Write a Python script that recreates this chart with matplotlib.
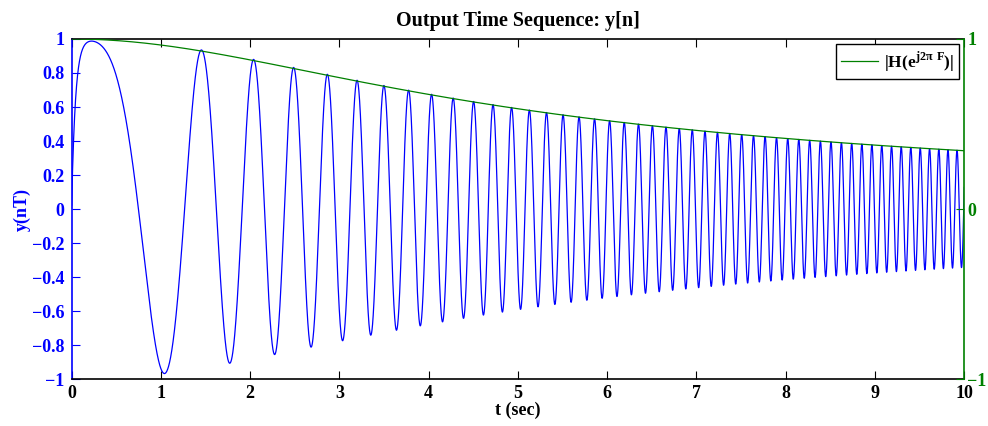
import matplotlib.pyplot as plt
import numpy as np

plt.rcParams['font.family'] = 'Liberation Serif'
plt.rcParams['font.weight'] = 'bold'
plt.rcParams['mathtext.fontset'] = 'custom'
plt.rcParams['mathtext.bf'] = 'Liberation Serif:bold'
plt.rcParams['mathtext.rm'] = 'Liberation Serif:bold'

# signal settings
fs = 1000.0          # samples per second
t_end = 10.0         # seconds shown
sweep_rate = 1.0     # Hz per second (chirp: f = sweep_rate * t)
f_cut = 3.65         # cutoff of the first order lowpass, Hz

x_ticks = [0, 1, 2, 3, 4, 5, 6, 7, 8, 9, 10]
y_ticks = [-1, -0.8, -0.6, -0.4, -0.2, 0, 0.2, 0.4, 0.6, 0.8, 1]
y_tick_labels = ['\u22121', '\u22120.8', '\u22120.6', '\u22120.4', '\u22120.2',
                 '0', '0.2', '0.4', '0.6', '0.8', '1']
y2_ticks = [-1, 0, 1]
y2_tick_labels = ['\u22121', '0', '1']

t = np.arange(0, t_end + 0.5 / fs, 1 / fs)
x = np.cos(np.pi * sweep_rate * t ** 2)

# first order recursive lowpass, starting at rest
a = np.exp(-2 * np.pi * f_cut / fs)
y = np.zeros_like(x)
prev = 0.0
for n in range(len(x)):
    prev = a * prev + (1 - a) * x[n]
    y[n] = prev

F = sweep_rate * t / fs
H = (1 - a) / np.abs(1 - a * np.exp(-2j * np.pi * F))

blue = '#0000ff'
green = '#008000'

fig, ax = plt.subplots(figsize=(9.88, 4.26), dpi=100)
fig.subplots_adjust(left=0.0725, right=0.976, bottom=0.11, top=0.9085)

ax.plot(t, y, color=blue, lw=0.9)
ax.set_xlim(0, 10)
ax.set_ylim(-1, 1)
ax.set_xticks(x_ticks)
ax.set_xticklabels([str(v) for v in x_ticks])
ax.set_yticks(y_ticks)
ax.set_yticklabels(y_tick_labels)
ax.tick_params(axis='x', direction='in', length=6, top=True, labelsize=13, pad=4)
ax.tick_params(axis='y', direction='in', length=6, right=True, colors=blue,
               labelsize=13, pad=5)
ax.spines['left'].set_color(blue)
ax.spines['right'].set_visible(False)
for s in ax.spines.values():
    s.set_linewidth(1.2)
ax.set_xlabel('t (sec)', fontsize=13, fontweight='bold', labelpad=0)
ax.set_ylabel('y(nT)', fontsize=13, fontweight='bold', color=blue, labelpad=1)
ax.set_title('Output Time Sequence: y[n]', fontsize=14.5, fontweight='bold', pad=9)

ax2 = ax.twinx()
ax2.plot(t, H, color=green, lw=0.9, label=r'|H(e$^{\mathbf{j2\pi\ F}}$)|')
ax2.set_ylim(-1, 1)
ax2.set_yticks(y2_ticks)
ax2.set_yticklabels(y2_tick_labels)
ax2.tick_params(axis='y', direction='in', length=6, colors=green,
                labelsize=13, pad=2)
ax2.spines['right'].set_color(green)
ax2.spines['right'].set_linewidth(1.2)
for k in ('left', 'top', 'bottom'):
    ax2.spines[k].set_visible(False)

leg = ax2.legend(loc='upper right', fontsize=12.5, fancybox=False, framealpha=1,
                 edgecolor='black', handlelength=2.1, handletextpad=0.35,
                 borderaxespad=0.3, borderpad=0.3)
leg.get_frame().set_linewidth(1.0)

plt.savefig('out.png')
